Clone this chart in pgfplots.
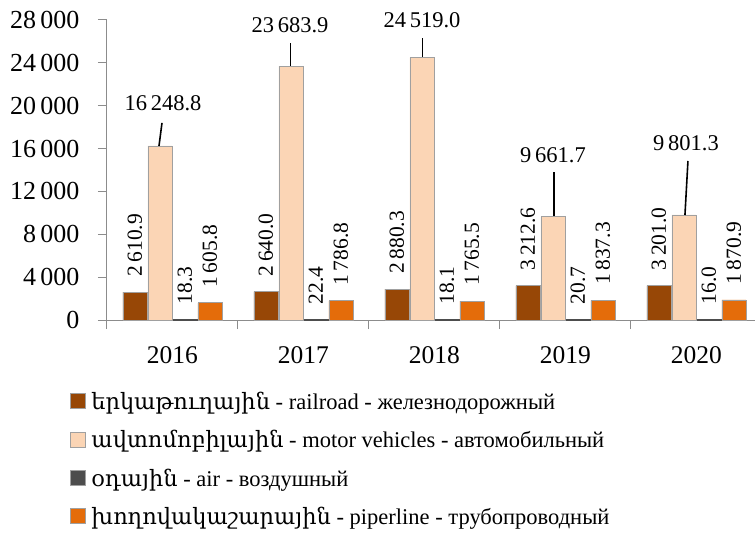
\documentclass[border=0pt]{standalone}
\usepackage{pgfplots}
\pgfplotsset{compat=1.18}
\usepackage{pgfplotstable}
\usepackage{fontspec}
\setmainfont{Liberation Serif}
\newfontfamily\armfont{DejaVu Serif}
\definecolor{rail}{HTML}{974706}
\definecolor{motor}{HTML}{FBD5B5}
\definecolor{airc}{HTML}{4D4D4D}
\definecolor{pipe}{HTML}{E46C0A}
\definecolor{bordergray}{HTML}{A0A0A0}
\definecolor{axisgray}{HTML}{8C8C8C}

\pgfplotstableread{
x rail motor air pipe ldx ldy
0 2610.9 16248.8 18.3 1605.8 3 43
1 2640.0 23683.9 22.4 1786.8 -1 41
2 2880.3 24519.0 18.1 1765.5 0 37
3 3212.6 9661.7 20.7 1837.3 0 61
4 3201.0 9801.3 16.0 1870.9 2 72
}\datatable

\begin{document}
\begin{tikzpicture}
\useasboundingbox (0pt,0pt) rectangle (755pt,536pt);
\begin{axis}[
  at={(107pt,216pt)}, anchor=south west,
  scale only axis, width=648pt, height=300pt,
  xmin=-0.5, xmax=4.447, ymin=0, ymax=28000,
  clip=false,
  axis x line*=bottom, axis y line*=left,
  axis line style={draw=axisgray, line width=1pt},
  /pgf/number format/assume math mode=true,
  scaled y ticks=false,
  ytick={0,4000,...,28000},
  yticklabel style={font=\fontsize{26}{28}\selectfont, xshift=-15pt, /pgf/number format/fixed, /pgf/number format/precision=0, /pgf/number format/1000 sep={\,}},
  xtick={0,1,2,3,4},
  xticklabels={2016,2017,2018,2019,2020},
  xticklabel style={font=\fontsize{25.5}{28}\selectfont, yshift=-14pt},
  minor xtick={-0.5,0.5,1.5,2.5,3.5,4.5},
  tick align=outside,
  major tick length=9pt, minor tick length=9pt,
  tick style={draw=axisgray, line width=1pt},
  major x tick style={draw=none},
  ybar=1pt, bar width=24pt,
  legend style={at={(0,0)}, anchor=north west, xshift=-40pt, yshift=-68pt,
    draw=none, fill=none, font=\fontsize{22.5}{26}\selectfont, row sep=15.5pt,
    legend cell align=left, nodes={inner xsep=5.5pt}},
  sqlegend/.style={legend image code/.code={\draw[##1, draw=bordergray, line width=0.8pt] (0pt,-7pt) rectangle (15pt,8pt);}},
  rotlabels/.style={nodes near coords={\pgfmathprintnumber[fixed,fixed zerofill,precision=1,1000 sep={\,}]{\pgfplotspointmeta}},
    every node near coord/.append style={rotate=90, anchor=west, inner xsep=15pt, inner ysep=0pt, font=\fontsize{21.5}{24}\selectfont, black}},
]
\addplot[fill=rail, draw=bordergray, line width=0.8pt, sqlegend, rotlabels] table[x=x,y=rail]{\datatable};
\addlegendentry{{\armfont երկաթուղային} - railroad - железнодорожный}
\addplot[fill=motor, draw=bordergray, line width=0.8pt, sqlegend,
  visualization depends on={\thisrow{ldx} \as \ldx},
  visualization depends on={\thisrow{ldy} \as \ldy},
  nodes near coords={\pgfmathprintnumber[fixed,fixed zerofill,precision=1,1000 sep={\,}]{\pgfplotspointmeta}},
  every node near coord/.append style={anchor=center, xshift=\ldx pt, yshift=\ldy pt, font=\fontsize{22.5}{24}\selectfont, black}] table[x=x,y=motor]{\datatable};
\addlegendentry{{\armfont ավտոմոբիլային} - motor vehicles - автомобильный}
\addplot[fill=airc, draw=airc, line width=0.8pt, sqlegend, rotlabels] table[x=x,y=air]{\datatable};
\addlegendentry{{\armfont օդային} - air - воздушный}
\addplot[fill=pipe, draw=bordergray, line width=0.8pt, sqlegend, rotlabels] table[x=x,y=pipe]{\datatable};
\addlegendentry{{\armfont խողովակաշարային} - piperline - трубопроводный}
% leader lines for motor vehicle labels
\draw[black, line width=1.6pt] (axis cs:0,16248.8) ++(-10.5pt,23pt) -- ++(-3pt,-23pt);
\draw[black, line width=1.6pt] (axis cs:1,23683.9) ++(-13pt,23pt) -- ++(0pt,-23pt);
\draw[black, line width=1.6pt] (axis cs:2,24519.0) ++(-12pt,19pt) -- ++(0pt,-19pt);
\draw[black, line width=1.6pt] (axis cs:3,9661.7) ++(-11.5pt,44pt) -- ++(0pt,-44pt);
\draw[black, line width=1.6pt] (axis cs:4,9801.3) ++(-8.5pt,54pt) -- ++(-3pt,-54pt);
\end{axis}
\end{tikzpicture}
\end{document}
